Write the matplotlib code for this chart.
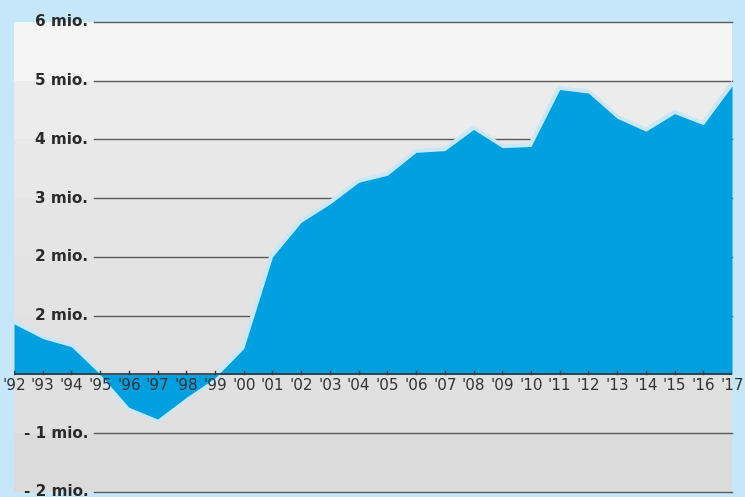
import matplotlib.pyplot as plt

# yearly values, in millions
years = ["'92", "'93", "'94", "'95", "'96", "'97", "'98", "'99", "'00", "'01",
         "'02", "'03", "'04", "'05", "'06", "'07", "'08", "'09", "'10", "'11",
         "'12", "'13", "'14", "'15", "'16", "'17"]
values = [0.86, 0.61, 0.47, 0.0, -0.56, -0.76, -0.39, -0.06, 0.44, 2.0,
          2.59, 2.9, 3.27, 3.39, 3.78, 3.81, 4.17, 3.86, 3.88, 4.85,
          4.79, 4.36, 4.14, 4.44, 4.25, 4.91]

grid_vals = [6, 5, 4, 3, 2, 1, -1, -2]
grid_labels = ["6 mio.", "5 mio.", "4 mio.", "3 mio.", "2 mio.", "2 mio.", "- 1 mio.", "- 2 mio."]

# background bands, top to bottom
band_colors = ["#f5f5f5", "#ebeceb", "#e8e8e8", "#e5e5e5", "#e3e3e3", "#e1e1e1", "#e0e0e0", "#dbdbdb"]

W, H = 745, 497
fig = plt.figure(figsize=(W / 100, H / 100), dpi=100)
fig.patch.set_facecolor("#c6e7fa")

ax = fig.add_axes([14 / W, 1 - 493 / H, (732 - 14) / W, (493 - 22) / H])
ax.set_xlim(0, len(years) - 1)
ax.set_ylim(-2.02, 6)
ax.axis("off")

for i, c in enumerate(band_colors):
    top = 6 - i
    ax.axhspan(top - 1, top, color=c, zorder=0, lw=0)

x = list(range(len(years)))

# grid lines, starting after the labels
x0 = (94 - 14) / (732 - 14) * (len(years) - 1)
for v, lab in zip(grid_vals, grid_labels):
    ax.plot([x0, len(years) - 1], [v, v], color="#5a5a5a", lw=1, zorder=1, clip_on=False)
    ax.text(x0 - 0.2, v, lab, ha="right", va="center", fontsize=11,
            fontweight="bold", color="#2a2a2a", zorder=5, clip_on=False)

ax.plot(x, values, color="#c8e8fa", lw=5, zorder=2, solid_joinstyle="miter", clip_on=False)
ax.fill_between(x, values, 0, color="#009fe0", lw=0, zorder=3)

# zero line with small ticks
ax.plot([0, len(years) - 1], [0, 0], color="#333333", lw=1.2, zorder=4)
for i, lab in enumerate(years):
    ax.plot([i, i], [0, 0.06], color="#333333", lw=1, zorder=4)
    ax.text(i, -0.07, lab, ha="center", va="top", fontsize=11, color="#333333",
            zorder=5, clip_on=False)

fig.savefig("out.png", dpi=100, facecolor=fig.get_facecolor())
